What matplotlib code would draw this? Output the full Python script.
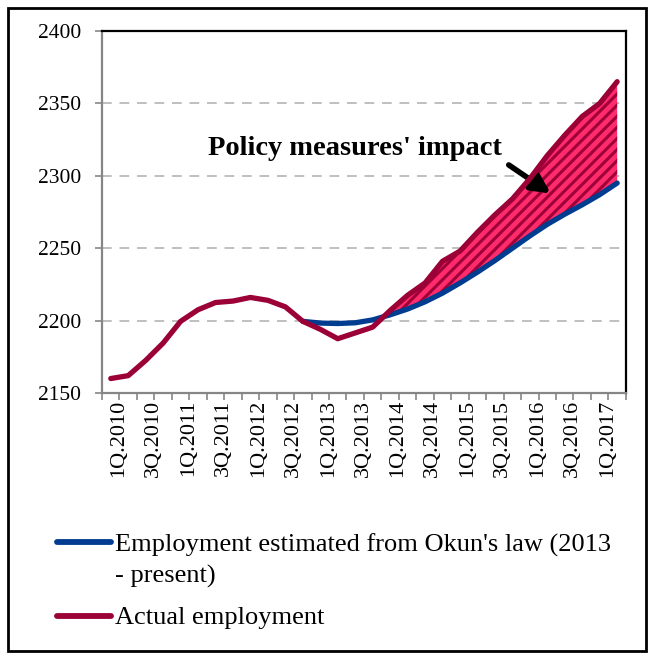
import numpy as np
import matplotlib
matplotlib.use('Agg')
import matplotlib.pyplot as plt
from matplotlib.patches import Rectangle
from matplotlib.lines import Line2D

plt.rcParams['font.family'] = ['Liberation Serif', 'DejaVu Serif']
plt.rcParams['hatch.linewidth'] = 2.2

# quarters 1Q.2010 .. 2Q.2017
quarters = ['%dQ.%d' % (q, y) for y in range(2010, 2018) for q in (1, 2, 3, 4)][:30]

actual = [2160, 2162, 2172.5, 2184.5, 2199.5, 2207.5, 2212.5, 2213.5, 2216, 2214,
          2209.5, 2199.5, 2194, 2187.5, 2191.5, 2195.5, 2207, 2217.5, 2226, 2241,
          2248, 2261, 2273, 2284, 2298, 2314, 2328, 2341, 2350, 2365]

# Okun's law estimate starts at 4Q.2012
okun_start = 11
okun = [2199.5, 2198.3, 2198, 2198.5, 2200.5, 2204, 2208, 2213, 2219, 2226,
        2233.5, 2241.5, 2250, 2258.5, 2266.5, 2273.5, 2280, 2287, 2295]

labels = ["Employment estimated from Okun's law (2013\n- present)", 'Actual employment']

red = '#9B0036'
blue = '#003C8F'

x = np.arange(len(quarters))
xo = x[okun_start:]
act_o = np.array(actual[okun_start:])
okun = np.array(okun)

fig = plt.figure(figsize=(6.54, 6.57), dpi=100)
ax = fig.add_axes([0.156, 0.4018, 0.801, 0.551])

# shaded area: policy impact
ax.fill_between(xo, okun, act_o, where=act_o >= okun, interpolate=True,
                facecolor='#FF2B6B', edgecolor='#A0003A', hatch='///',
                linewidth=0, zorder=2)

ax.plot(xo, okun, color=blue, lw=3.8, solid_capstyle='round', zorder=3)
ax.plot(x, actual, color=red, lw=3.8, solid_capstyle='round', zorder=4)

ax.set_xlim(-0.5, len(quarters) - 0.5)
ax.set_ylim(2150, 2400)
ax.set_yticks(np.arange(2150, 2401, 50))
ax.yaxis.grid(True, color='#BFBFBF', linestyle=(0, (5, 4)), lw=1.4)
ax.set_axisbelow(True)

# labels every second quarter, tick marks between categories
ax.set_xticks(x[::2] + 0.45)
ax.set_xticklabels(quarters[::2], rotation=90, fontsize=16)
ax.set_xticks(np.arange(-0.5, len(quarters), 1), minor=True)
ax.tick_params(axis='x', which='major', length=0, pad=5)
ax.tick_params(axis='x', which='minor', length=5, width=1.2, color='#868686')
ax.tick_params(axis='y', labelsize=15.5, length=5, width=1.2, color='#868686', pad=10)

for s in ['left', 'bottom']:
    ax.spines[s].set_color('#868686')
    ax.spines[s].set_linewidth(1.6)
for s in ['top', 'right']:
    ax.spines[s].set_color('black')
    ax.spines[s].set_linewidth(1.6)

ax.text(13.98, 2319, "Policy measures' impact", fontsize=20.5, fontweight='bold',
        ha='center', va='center')
ax.annotate('', xy=(25.33, 2286.7), xytext=(22.66, 2308.6),
            arrowprops=dict(arrowstyle='-|>', lw=4, color='black', mutation_scale=28))

# legend below the chart (baseline = last line of each label)
leg_y = [1 - 542 / 657, 1 - 616 / 657]
base_y = [1 - 582.5 / 657, 1 - 624 / 657]
for lab, col, yy, by in zip(labels, [blue, red], leg_y, base_y):
    fig.add_artist(Line2D([57 / 654, 111 / 654], [yy, yy], color=col, lw=4.2,
                          solid_capstyle='round', transform=fig.transFigure))
    fig.text(115 / 654, by, lab, fontsize=19, va='baseline', ha='left',
             linespacing=1.47)

fig.add_artist(Rectangle((0.012, 0.009), 0.976, 0.979, transform=fig.transFigure,
                         fill=False, edgecolor='black', lw=2))

fig.savefig('out.png', dpi=100)
